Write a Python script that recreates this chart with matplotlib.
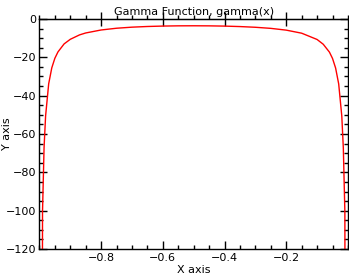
import matplotlib
matplotlib.use("Agg")
import matplotlib.pyplot as plt
from matplotlib.ticker import MultipleLocator

# values
x_vals = [-0.999, -0.99, -0.985, -0.98, -0.97, -0.96, -0.95, -0.94, -0.92,
          -0.9, -0.87, -0.85, -0.8, -0.75, -0.7, -0.65, -0.6, -0.55, -0.5,
          -0.45, -0.4, -0.35, -0.3, -0.25, -0.2, -0.15, -0.1, -0.08, -0.06,
          -0.05, -0.04, -0.03, -0.02, -0.015, -0.01, -0.001]
gamma_vals = [-1000.4, -100.4, -67.1, -50.5, -33.8, -25.5, -20.5, -17.2, -13.0,
              -10.6, -8.3, -7.3, -5.74, -4.83, -4.27, -3.92, -3.70, -3.58, -3.55,
              -3.59, -3.72, -3.96, -4.33, -4.90, -5.82, -7.42, -10.7, -13.2, -17.3,
              -20.6, -25.6, -33.9, -50.6, -67.3, -100.6, -1000.6]

x_ticks = [-0.8, -0.6, -0.4, -0.2]
y_ticks = [0, -20, -40, -60, -80, -100, -120]

plt.rcParams["font.family"] = ["DejaVu Sans"]
plt.rcParams["font.size"] = 8

fig = plt.figure(figsize=(3.49, 2.75), dpi=100)
ax = fig.add_axes([0.113, 0.0945, 0.884, 0.8365])

ax.plot(x_vals, gamma_vals, color="red", lw=1.0)

ax.set_xlim(-1, 0)
ax.set_ylim(-120, 0)
ax.set_xticks(x_ticks)
ax.set_xticklabels([f"\u2212{abs(v):.1f}" for v in x_ticks])
ax.set_yticks(y_ticks)
ax.set_yticklabels([("\u2212" if v < 0 else "") + str(abs(v)) for v in y_ticks])
ax.xaxis.set_minor_locator(MultipleLocator(0.05))
ax.yaxis.set_minor_locator(MultipleLocator(5))

ax.tick_params(which="major", direction="in", length=6, width=1,
               left=True, right=True, bottom=True, top=False, pad=3)
ax.tick_params(which="minor", direction="in", length=3, width=1,
               left=True, right=True, bottom=True, top=False)
ax.tick_params(axis="y", which="major", pad=2)

top = ax.secondary_xaxis("top")
top.set_xticks(x_ticks)
top.xaxis.set_minor_locator(MultipleLocator(0.05))
top.tick_params(which="major", direction="inout", length=10, width=1,
                labeltop=False)
top.tick_params(which="minor", direction="out", length=3, width=1)

for s in ax.spines.values():
    s.set_linewidth(1)

ax.set_title("Gamma Function, gamma(x)", fontsize=8, pad=3)
ax.set_xlabel("X axis", labelpad=1)
ax.set_ylabel("Y axis")
ax.yaxis.set_label_coords(-0.088, 0.5)

fig.savefig("out.png", dpi=100)
